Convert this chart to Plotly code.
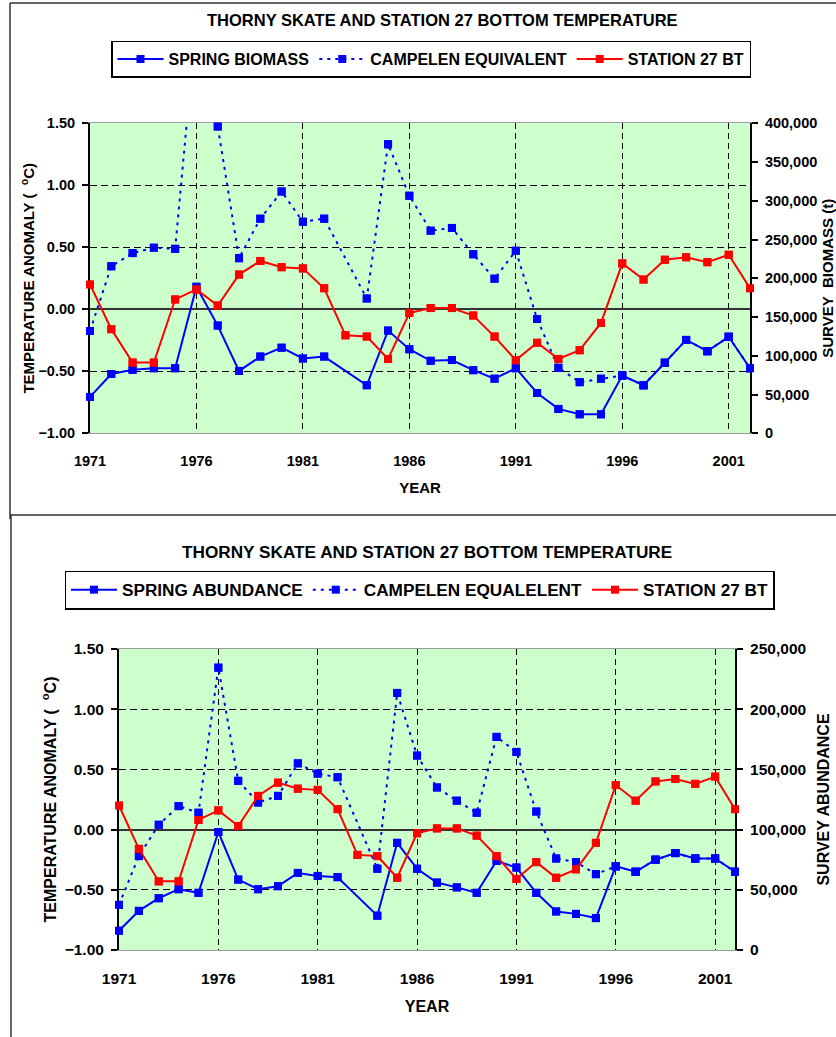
import plotly.graph_objects as go

# ---- survey and oceanographic series, 1971-2002 (1983: no spring survey) ----
YEARS = list(range(1971, 2003))

BT_ANOMALY = [0.20, -0.16, -0.43, -0.43, 0.08, 0.16, 0.03, 0.28, 0.39, 0.34,
              0.33, 0.17, -0.21, -0.22, -0.40, -0.03, 0.01, 0.01, -0.05, -0.22,
              -0.41, -0.27, -0.40, -0.33, -0.11, 0.37, 0.24, 0.40, 0.42, 0.38,
              0.44, 0.17]

SPRING_BIOMASS = [47000, 76500, 82000, 84000, 84000, 189000, 139000, 80500, 99000, 110500,
                  96500, 99000, None, 62000, 132500, 108500, 93500, 94500, 81500, 70500,
                  84000, 52000, 31500, 24500, 24500, 74500, 62000, 91000, 120500, 106000,
                  124500, 84000]

CAMPELEN_BIOMASS = [132000, 215500, 232500, 239500, 238000, 536000, 396000, 226000, 277000, 312000,
                    273000, 277000, None, 174000, 373000, 306500, 261500, 265000, 231000, 199500,
                    235500, 147500, 84500, 66000, 70500, 74500, 62000, 91000, 120500, 106000,
                    124500, 84000]

SPRING_ABUNDANCE = [16000, 32500, 43000, 50500, 47500, 98000, 58500, 50500, 53000, 64000,
                    61500, 60500, None, 28500, 89000, 67500, 56000, 52000, 47500, 74000,
                    68500, 47500, 32000, 30000, 26500, 69500, 65000, 75000, 80500, 76000,
                    76000, 65000]

CAMPELEN_ABUNDANCE = [37500, 78000, 104000, 119500, 114000, 234500, 140500, 122500, 128000, 155000,
                      146500, 143500, None, 67500, 213500, 161500, 135000, 124000, 114000, 177000,
                      164500, 115000, 76000, 73000, 63000, 69500, 65000, 75000, 80500, 76000,
                      76000, 65000]

YEAR_TICKS = [1971, 1976, 1981, 1986, 1991, 1996, 2001]
TEMP_RANGE = [-1.0, 1.5]
TEMP_TICKS = [-1.0, -0.5, 0.0, 0.5, 1.0, 1.5]
TEMP_GRID = [-0.5, 0.5, 1.0]
BIOMASS_RANGE = [0, 400000]
ABUNDANCE_RANGE = [0, 250000]

TITLE = "THORNY SKATE AND STATION 27 BOTTOM TEMPERATURE"

# ---- page geometry and styling ----
W, H = 836, 1037
FONT = "Liberation Sans, Arial, sans-serif"
BLUE = "#0000FF"
RED = "#FF0000"
PLOT_BG = "#CCFFCC"
FRAME = "#333333"


def fx(px):
    return px / W


def fy(py):
    return 1 - py / H


def bold(size):
    return dict(family=FONT, size=size, color="black", weight="bold")


def add_series(fig, y, name, color, dash, xa, ya, legend, yrange):
    """Line+marker series; a second marker layer keeps end squares unclipped."""
    marker = dict(symbol="square", size=8, color=color, line=dict(width=0))
    fig.add_trace(go.Scatter(
        x=YEARS, y=y, name=name, mode="lines+markers",
        line=dict(color=color, width=2, dash=dash), marker=marker,
        connectgaps=True, cliponaxis=True, xaxis=xa, yaxis=ya, legend=legend))
    lo, hi = yrange
    inside = [v if (v is not None and lo <= v <= hi) else None for v in y]
    fig.add_trace(go.Scatter(
        x=YEARS, y=inside, mode="markers", marker=marker, showlegend=False,
        hoverinfo="skip", cliponaxis=False, xaxis=xa, yaxis=ya))


fig = go.Figure()

# top panel: biomass (right axis) + bottom temperature (left axis, drawn on top)
add_series(fig, SPRING_BIOMASS, "SPRING BIOMASS", BLUE, "solid", "x", "y", "legend", BIOMASS_RANGE)
add_series(fig, CAMPELEN_BIOMASS, "CAMPELEN EQUIVALENT", BLUE, "3px,5px", "x", "y", "legend", BIOMASS_RANGE)
add_series(fig, BT_ANOMALY, "STATION 27 BT", RED, "solid", "x", "y2", "legend", TEMP_RANGE)

# bottom panel: abundance (right axis) + bottom temperature (left axis)
add_series(fig, SPRING_ABUNDANCE, "SPRING ABUNDANCE", BLUE, "solid", "x2", "y3", "legend2", ABUNDANCE_RANGE)
add_series(fig, CAMPELEN_ABUNDANCE, "CAMPELEN EQUALELENT", BLUE, "3px,5px", "x2", "y3", "legend2", ABUNDANCE_RANGE)
add_series(fig, BT_ANOMALY, "STATION 27 BT", RED, "solid", "x2", "y4", "legend2", TEMP_RANGE)


def year_axis(domain, anchor, tick_size, title_size, standoff):
    return dict(
        domain=domain, anchor=anchor, range=[1971, 2002], tickvals=YEAR_TICKS,
        showgrid=True, gridcolor="black", gridwidth=1, griddash="6px,4px",
        showline=True, linecolor="#9a9a9a", linewidth=1, mirror=True,
        ticks="", ticklabelstandoff=14, tickfont=bold(tick_size), zeroline=False,
        automargin=False,
        title=dict(text="YEAR", font=bold(title_size), standoff=standoff),
        layer="below traces")


def count_axis(domain, anchor, rng, title, tick_size, title_size, standoff):
    return dict(
        domain=domain, anchor=anchor, side="right", range=rng, dtick=50000,
        tickformat=",d", showgrid=False, zeroline=False,
        showline=True, linecolor="black", linewidth=2,
        ticks="outside", ticklen=6, tickwidth=1.5, tickcolor="black",
        ticklabelstandoff=4, tickfont=bold(tick_size), automargin=False,
        title=dict(text=title, font=bold(title_size), standoff=standoff),
        layer="below traces")


def temp_axis(overlay, anchor, tick_size, title_size, standoff):
    return dict(
        overlaying=overlay, anchor=anchor, side="left", range=TEMP_RANGE,
        tickvals=TEMP_TICKS, tickformat=".2f", showgrid=False,
        minor=dict(tickvals=TEMP_GRID, showgrid=True, gridcolor="black",
                   gridwidth=1, griddash="7px,4px", ticks=""),
        zeroline=True, zerolinecolor=FRAME, zerolinewidth=2,
        showline=True, linecolor="black", linewidth=2,
        ticks="outside", ticklen=6, tickwidth=1.5, tickcolor="black",
        ticklabelstandoff=4, tickfont=bold(tick_size), automargin=False,
        title=dict(text="TEMPERATURE ANOMALY (\u00a0 <sup>o</sup>C)",
                   font=bold(title_size), standoff=standoff),
        layer="below traces")


def legend_box(x, y, size):
    return dict(
        orientation="h", xanchor="center", yanchor="middle", x=x, y=y,
        bgcolor="white", bordercolor="black", borderwidth=1.5,
        font=bold(size), itemwidth=46, tracegroupgap=0, traceorder="normal")


fig.update_layout(
    template="none",
    width=W, height=H, autosize=False,
    margin=dict(l=0, r=0, t=0, b=0, pad=0),
    paper_bgcolor="white", plot_bgcolor=PLOT_BG,
    font=dict(family=FONT, color="black"),
    showlegend=True,
    xaxis=year_axis([fx(90), fx(750)], "y", 14.5, 15, 14),
    yaxis=count_axis([fy(433.3), fy(123.3)], "x", BIOMASS_RANGE,
                     "SURVEY\u00a0 BIOMASS (t)", 14.5, 15, 6),
    yaxis2=temp_axis("y", "x", 14.5, 15, 0),
    xaxis2=year_axis([fx(119), fx(735)], "y3", 15.5, 16, 15),
    yaxis3=count_axis([fy(950), fy(649)], "x2", ABUNDANCE_RANGE,
                      "SURVEY ABUNDANCE", 15.5, 16, 13),
    yaxis4=temp_axis("y3", "x2", 15.5, 16, 4),
    legend=legend_box(fx(431), fy(59), 16),
    legend2=legend_box(fx(419.5), fy(590), 17.2),
    annotations=[
        dict(text=TITLE, x=fx(442), y=fy(20), xref="paper", yref="paper",
             showarrow=False, xanchor="center", yanchor="middle", font=bold(16.5)),
        dict(text=TITLE, x=fx(427), y=fy(552), xref="paper", yref="paper",
             showarrow=False, xanchor="center", yanchor="middle", font=bold(17.2)),
    ],
    shapes=[
        # outer frames around the two charts
        dict(type="line", xref="paper", yref="paper", x0=fx(10), x1=1, y0=fy(3), y1=fy(3),
             line=dict(color=FRAME, width=1.5)),
        dict(type="line", xref="paper", yref="paper", x0=fx(10), x1=fx(10), y0=fy(3), y1=fy(519),
             line=dict(color=FRAME, width=1.5)),
        dict(type="line", xref="paper", yref="paper", x0=fx(10), x1=1, y0=fy(515), y1=fy(515),
             line=dict(color=FRAME, width=1.5)),
        dict(type="line", xref="paper", yref="paper", x0=fx(11), x1=fx(11), y0=fy(515), y1=0,
             line=dict(color=FRAME, width=1.5)),
    ],
)

fig.write_html("out.html")
